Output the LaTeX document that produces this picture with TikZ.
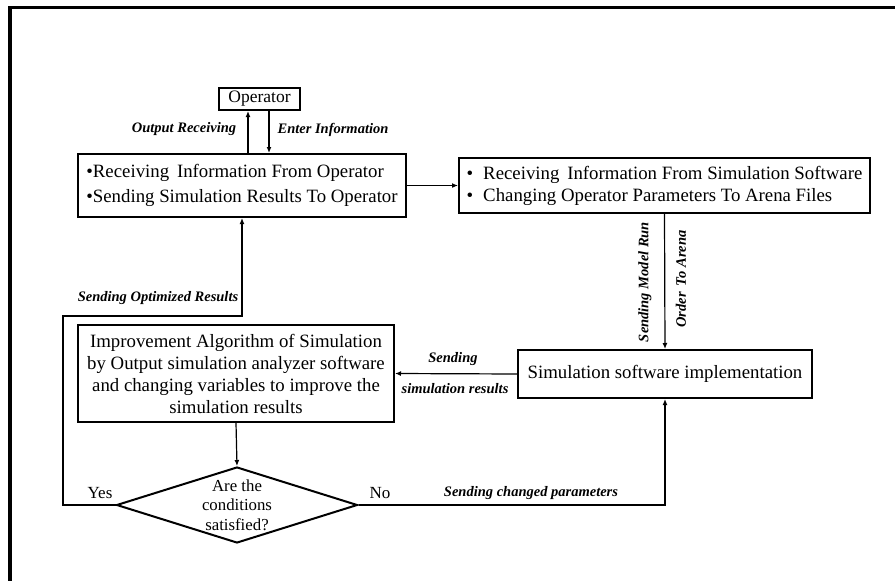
\documentclass[tikz,border=0pt]{standalone}
\usepackage{fontspec}
\setmainfont{Liberation Serif}
\usetikzlibrary{arrows.meta,shapes.geometric,calc}
\tikzset{
  boxnode/.style={draw,line width=2pt,inner sep=0pt,font=\fontsize{18.8}{25}\selectfont},
  conn/.style={line width=1.2pt},
  arr/.style={conn,-{Latex[length=6pt,width=5pt]}},
  lbl/.style={inner sep=0pt,font=\fontsize{14.5}{17}\selectfont\bfseries\itshape},
  plain/.style={inner sep=0pt,font=\fontsize{17}{20}\selectfont}
}
\begin{document}
\begin{tikzpicture}[x=1pt,y=-1pt]
\useasboundingbox (0,0) rectangle (895,581);
% outer frame (top and left only)
\draw[line width=3.5pt] (10,581) -- (10,7.5) -- (895,7.5);

\node[boxnode,minimum width=81pt,minimum height=22pt,font=\fontsize{17.5}{20}\selectfont] (op) at (259.5,99) {Operator};
\node[boxnode,minimum width=328pt,minimum height=63pt,align=left] (b1) at (242,185.5)
  {\textbullet Receiving\, Information From Operator\\ \textbullet Sending Simulation Results To Operator};
\node[boxnode,minimum width=411pt,minimum height=55pt,align=left,font=\fontsize{18.8}{22}\selectfont] (b2) at (664.5,185.5)
  {\textbullet\hspace{10pt}Receiving\, Information From Simulation Software\\ \textbullet\hspace{10pt}Changing Operator Parameters To Arena Files};
\node[boxnode,minimum width=294pt,minimum height=48pt] (b3) at (665,374) {Simulation software implementation};
\node[boxnode,minimum width=316pt,minimum height=97pt,align=center,font=\fontsize{18.8}{22}\selectfont] (b4) at (236,373.5)
  {Improvement Algorithm of Simulation\\ by Output simulation analyzer software\\ and changing variables to improve the\\ simulation results};
\node[draw,line width=2pt,diamond,aspect=3.17,minimum width=241pt,minimum height=76pt,inner sep=0pt] (dia) at (237,505) {};
\node[align=center,inner sep=0pt,font=\fontsize{16.8}{19.5}\selectfont] (diat) at (237,505) {Are the\\ conditions\\ satisfied?};

% connectors
\coordinate (ua) at (248,0);
\coordinate (da) at (269,0);
\draw[arr] (b1.north -| ua) -- (op.south -| ua);
\draw[arr] (op.south -| da) -- (b1.north -| da);
\draw[arr] (b1.east) -- (b2.west);
\draw[arr] (b2.south) -- (b3.north);
\draw[arr] (b3.west) -- (b4.east);
\draw[arr] (b4.south) -- (dia.north);
\draw[arr] (dia.east) -| (b3.south);
\coordinate (yc) at (63,316);
\draw[arr] (dia.west) -| (yc) -| (b1.south);

% labels
\node[lbl] (l1) at (184,129) {Output Receiving};
\node[lbl] (l2) at (333,130) {Enter Information};
\node[lbl] (l3) at (158,298) {Sending Optimized Results};
\node[lbl,rotate=90] (l4) at (645,282) {Sending Model Run};
\node[lbl,rotate=90] (l5) at (681,279) {Order\, To Arena};
\node[lbl] (l6) at (453,359) {Sending};
\node[lbl] (l7) at (455,389) {simulation results};
\node[plain] (yes) at (100,493) {Yes};
\node[plain] (no) at (380,493) {No};
\node[lbl] (l8) at (531,493) {Sending changed parameters};
\end{tikzpicture}
\end{document}
